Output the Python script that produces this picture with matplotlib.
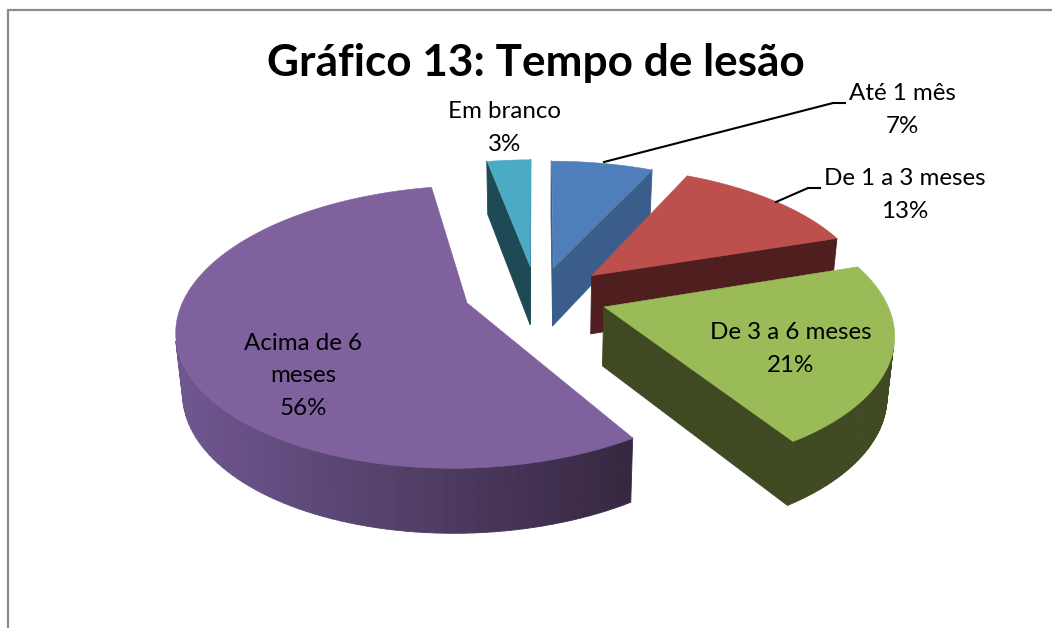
from matplotlib import pyplot as plt
from matplotlib.collections import PolyCollection
from matplotlib.colors import to_rgb
import numpy as np

plt.rcParams['font.family'] = ['Lato', 'DejaVu Sans']

title = "Gráfico 13: Tempo de lesão"
categories = ["Até 1 mês", "De 1 a 3 meses", "De 3 a 6 meses", "Acima de 6\nmeses", "Em branco"]
values = [7, 13, 21, 56, 3]

# looks
top_colors = ["#4f7fba", "#bd504d", "#9bbb59", "#7f619e", "#4babc5"]
wall_colors = ["#3a5d8c", "#4e1f1e", "#3f4a22", "#3a2a4a", "#1e4a55"]
rim_light = ["#3a5d8c", "#4e1f1e", "#3f4a22", "#6f5690", "#1e4a55"]
rim_dark = ["#3a5d8c", "#4e1f1e", "#3f4a22", "#35273f", "#1e4a55"]
explode = [0.2, 0.22, 0.25, 0.27, 0.2]
nudge = [(1, 0), (6, 1), (-3, 2), (-2, -4), (-5, -1)]
draw_order = [4, 3, 0, 1, 2]
label_pos = [(902, 110), (905, 195), (791, 349), (303, 376), (505, 128)]

# fake 3d view, ground plane to pixels
x0, y0 = 540, 293
sx, sy, persp, depth = 280, 132.8, 0.167, 59
depth_persp = 0.09
taper = 0.02


def project(x, y, z=0.0):
    w = 1 + persp * y
    wz = 1 + depth_persp * y
    return np.column_stack([x0 + sx * x / w * (1 - taper * z), y0 - sy * y / w + depth * z / wz])


fig = plt.figure(figsize=(10.52, 6.28), dpi=100)
ax = fig.add_axes([0, 0, 1, 1])
wedges, _ = ax.pie(values, explode=explode, startangle=90, counterclock=False)

shapes = []
for w in wedges:
    t = np.radians(np.linspace(w.theta1, w.theta2, 120))
    cx, cy = w.center
    shapes.append((cx, cy, cx + w.r * np.cos(t), cy + w.r * np.sin(t)))
    w.remove()

ax.set_aspect("auto")
ax.set_xlim(0, 1052)
ax.set_ylim(628, 0)
ax.axis("off")

for i in draw_order:
    cx, cy, rx, ry = shapes[i]
    gx = np.concatenate([[cx], rx, [cx]])
    gy = np.concatenate([[cy], ry, [cy]])
    top = project(gx, gy) + nudge[i]
    low = project(gx, gy, 1.0) + nudge[i]
    a, b = np.array(to_rgb(rim_light[i])), np.array(to_rgb(rim_dark[i]))
    left, right = top[1:-1, 0].min(), top[1:-1, 0].max()
    quads, cols = [], []
    for k in range(len(gx) - 1):
        q = np.array([top[k], top[k + 1], low[k + 1], low[k]])
        # skip the faces turned away from the viewer
        area = np.sum(q[:, 0] * np.roll(q[:, 1], -1) - np.roll(q[:, 0], -1) * q[:, 1])
        if area <= 0:
            continue
        quads.append(q)
        if k == 0 or k == len(gx) - 2:
            cols.append(to_rgb(wall_colors[i]))
        else:
            f = (top[k, 0] - left) / (right - left)
            cols.append(tuple(a + (b - a) * f))
    ax.add_collection(PolyCollection(quads, facecolors=cols, edgecolors=cols, linewidths=0.6))
    ax.add_collection(PolyCollection([top], facecolors=top_colors[i], edgecolors=top_colors[i], linewidths=0.4))

for i, (px, py) in enumerate(label_pos):
    ax.text(px, py, f"{categories[i]}\n{values[i]}%", ha="center", va="center",
            fontsize=17.4, linespacing=1.67, color="black")

ax.plot([604, 833, 845], [162, 103, 103], color="black", lw=1.5)
ax.plot([776, 808, 820], [202, 188, 188], color="black", lw=1.5)

ax.text(536, 63, title, ha="center", va="center", fontsize=31.8, fontweight="bold", color="black")

# chart border, only top and left are in the crop
ax.plot([7.5, 7.5, 1052], [628, 10, 10], color="#8c8c8c", lw=1.6, solid_joinstyle="miter")

plt.savefig("out.png", dpi=100)
